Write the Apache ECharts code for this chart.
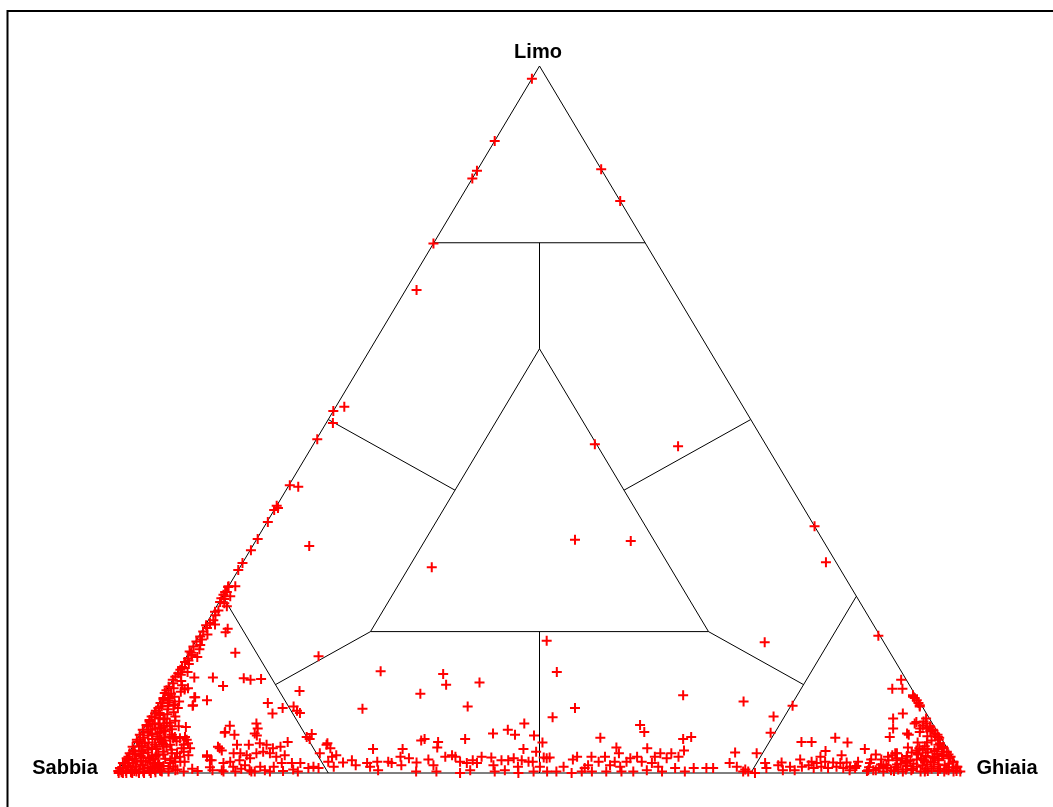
<!DOCTYPE html>
<html>
<head>
<meta charset="utf-8">
<script src="https://cdn.jsdelivr.net/npm/echarts@6/dist/echarts.min.js"></script>
<style>
  html, body { margin: 0; padding: 0; background: #ffffff; }
  #chart { width: 1053px; height: 807px; }
</style>
</head>
<body>
<div id="chart"></div>
<script>
// Vertex names of the ternary diagram
const vertici = { sabbia: 'Sabbia', ghiaia: 'Ghiaia', limo: 'Limo' };

// Samples as [sabbia %, limo %, ghiaia %]
const campioniLimosi = [
  [1.8,98.2,0],[10.6,89.4,0],[14.8,85.2,0],[15.9,84.1,0],[0,85.4,14.6],[0,80.9,19.1],[25.1,74.9,0],[30.4,68.3,1.3],
  [47.2,51.8,1.0],[48.8,51.2,0],[49.7,49.5,0.8],[52.7,47.2,0.1],[59.2,40.7,0.1],[58.3,40.5,1.2],[62.2,37.8,0],
  [62.8,37.2,0],[62.2,37.5,0.3],[64.4,35.5,0.1],[66.8,33.1,0.1],[68.4,31.5,0.1],[70.3,29.7,0],[71.3,28.7,0],
  [61.2,32.1,6.7],[73.7,26.3,0],[72.8,26.4,0.8],[74.4,25.6,0],[75.3,24.7,0]
];

const campioniCentrali = [
  [20.2,46.5,33.3],[10.5,46.2,43.3],[29.3,33.0,37.7],[22.8,32.8,44.4],[0,34.9,65.1],[1.2,29.8,69.0],
  [14.1,18.5,67.4],[48.2,29.1,22.7],[67.9,16.5,15.6],[0.2,19.4,80.4]
];

const bordoSabbioso = [
  [73.6,26.4,0],[74.2,25.6,0.2],[74.8,25.2,0],[75.7,24.2,0.1],[75.3,24.0,0.7],[76.5,23.0,0.5],[77.2,22.3,0.5],
  [77.8,21.6,0.6],[78.4,21.2,0.4],[79.1,20.5,0.4],[79.8,20.0,0.2],[80.5,19.3,0.2],[81.3,18.6,0.1],[81.1,18.1,0.8],
  [82.0,17.9,0.1],[82.8,17.2,0],[82.8,16.7,0.5],[83.5,16.2,0.3],[84.1,15.7,0.2],[84.8,15.0,0.2],[85.2,14.6,0.2],
  [85.7,14.1,0.2],[86.3,13.6,0.1],[86.8,13.2,0],[87.0,12.7,0.3],[87.8,12.2,0],[88.3,11.7,0],[88.7,11.3,0],
  [89.2,10.6,0.2],[88.8,10.3,0.9],[89.9,9.9,0.2],[90.5,9.2,0.3],[91.3,8.4,0.3],[91.9,8.0,0.1],[92.4,7.5,0.1],
  [93.1,6.8,0.1],[93.9,6.1,0],[94.6,5.4,0],[95.3,4.7,0],[96.3,3.7,0],[97.1,2.8,0.1],[97.8,2.1,0.1],[98.6,1.4,0],
  [99.3,0.7,0],[99.7,0.3,0],
  [74.1,25.0,0.9],[75.2,23.6,1.2],[77.0,22.8,0.2],[77.9,21.0,1.1],[79.5,19.6,0.9],[80.5,18.9,0.6],[81.5,17.5,1.0],
  [82.3,16.4,1.3],[83.8,15.4,0.8],[84.5,14.3,1.2],[85.5,13.9,0.6],[85.9,13.0,1.1],[86.1,12.4,1.5],[87.3,12.0,0.7],
  [86.7,11.5,1.8],[79.0,20.9,0.1],[75.0,24.6,0.4],[82.7,17.0,0.3],[83.6,15.9,0.5],[84.9,14.8,0.3]
];

const nucleoSabbioso = [
  [88.4,11.0,0.6],[87.8,10.8,1.4],[89.3,10.4,0.3],[88.8,10.0,1.2],[88.3,9.7,2.0],[90.0,9.4,0.6],[89.5,9.0,1.5],
  [91.0,8.8,0.2],[89.0,8.6,2.4],[90.8,8.2,1.0],[91.6,7.9,0.5],[90.7,7.6,1.7],[92.5,7.3,0.2],[90.2,7.1,2.7],
  [92.1,6.9,1.0],[93.0,6.6,0.4],[91.7,6.4,1.9],[93.0,6.1,0.9],[91.3,5.9,2.8],[94.0,5.7,0.3],[93.1,5.5,1.4],
  [92.6,5.2,2.2],[94.4,5.0,0.6],[93.4,4.8,1.8],[92.1,4.6,3.3],[95.4,4.4,0.2],[94.6,4.2,1.2],[93.5,4.0,2.5],
  [95.5,3.8,0.7],[94.6,3.6,1.8],[93.6,3.4,3.0],[96.5,3.2,0.3],[95.6,3.1,1.3],[94.9,2.9,2.2],[96.5,2.7,0.8],
  [93.8,2.6,3.6],[96.0,2.4,1.6],[97.5,2.3,0.2],[95.2,2.1,2.7],[96.9,2.0,1.1],[97.7,1.8,0.5],[96.3,1.7,2.0],
  [95.3,1.5,3.2],[97.4,1.4,1.2],[98.4,1.3,0.3],[96.4,1.1,2.5],[98.2,1.0,0.8],[97.4,0.9,1.7],[94.6,0.8,4.6],
  [98.9,0.7,0.4],[96.5,0.6,2.9],[98.1,0.5,1.4],[99.4,0.4,0.2],[96.0,0.3,3.7],[98.8,0.3,0.9],[97.6,0.2,2.2],
  [99.4,0.1,0.5],[98.3,0.1,1.6],[99.8,0,0.2],[98.9,0,1.1],[97.4,0,2.6],[96.0,0,4.0],[94.6,0.2,5.2],[93.6,0.6,5.8],
  [94.4,1.2,4.4],[93.3,2.0,4.7],[93.0,3.0,4.0],[90.7,4.5,4.8],[90.8,5.4,3.8],[90.4,6.2,3.4],[89.4,7.4,3.2],
  [89.1,8.0,2.9],[88.2,9.2,2.6],[87.6,10.1,2.3],[86.1,11.8,2.1],[96.8,0,3.2],[95.3,0.4,4.3],[95.8,1.6,2.6],
  [94.6,2.5,2.9],[94.1,3.5,2.4],
  [94.7,0.3,5.0],[92.6,0.5,6.9],[92.0,0.2,7.8],[90.8,0.6,8.6],[90.3,0.3,9.4],[88.6,0.8,10.6],[88.5,0.4,11.1],
  [85.9,0.2,13.9],[85.0,0.6,14.4],[80.2,0.3,19.5],[78.9,0.5,20.6],[78.5,0.2,21.3],
  [88.5,10.6,0.9],[89.7,9.9,0.4],[89.2,9.5,1.3],[90.7,8.5,0.8],[89.9,8.3,1.8],[91.1,7.7,1.2],[92.3,7.0,0.7],
  [91.1,6.7,2.2],[92.3,6.3,1.4],[93.4,5.8,0.8],[92.4,5.6,2.0],[93.7,5.3,1.0],[92.5,4.9,2.6],[94.9,4.7,0.4],
  [94.1,4.3,1.6],[92.5,4.1,3.4],[95.1,3.9,1.0],[93.5,3.7,2.8],[94.7,3.3,2.0],[96.4,3.0,0.6],[95.5,2.8,1.7],
  [93.2,2.6,4.2],[95.8,2.2,2.0],[94.7,2.0,3.3],[97.2,1.9,0.9],[96.9,1.6,1.5],[94.8,1.4,3.8],[96.6,1.2,2.2],
  [94.0,1.0,5.0],[98.0,0.8,1.2],[96.0,0.7,3.3],[97.1,0.5,2.4],[94.7,0.4,4.9],[97.8,0.3,1.9],[96.8,0.2,3.0],
  [95.4,0.1,4.5],[93.8,0.2,6.0],[99.3,0,0.7],[98.2,0,1.8],[92.8,1.8,5.4],[92.1,2.8,5.1],[92.6,3.8,3.6],
  [91.9,5.0,3.1],[91.5,6.0,2.5]
];

const sabbieGhiaiose = [
  [77.2,19.9,2.9],[76.7,20.4,2.9],[77.5,17.0,5.5],[84.1,13.5,2.4],[81.9,13.5,4.6],[78.3,13.4,8.3],[77.6,13.2,9.2],
  [76.3,13.3,10.4],[81.3,12.3,6.4],[85.6,12.0,2.4],[85.4,10.7,3.9],[84.2,10.3,5.5],[86.3,9.5,4.2],[77.2,9.9,12.9],
  [75.8,9.2,15.0],[77.4,8.4,14.2],[74.4,9.4,16.2],[74.3,8.8,16.9],[74.1,8.5,17.4],[72.6,11.6,15.8],[90.5,7.7,1.8],
  [90.4,6.6,3.0],[89.4,6.6,4.0],[88.6,6.5,4.9],[83.3,6.7,10.0],[84.4,5.7,9.9],[83.4,5.4,11.2],[80.0,7.0,13.0],
  [80.2,6.3,13.5],[80.9,5.6,13.5],[80.8,5.3,13.9],[92.0,5.8,2.2],[92.4,4.7,2.9],[91.2,5.1,3.7],[90.6,5.1,4.3],
  [90.1,4.9,5.0],[89.4,5.1,5.5],[89.4,4.7,5.9],[90.1,4.0,5.9],[89.5,4.2,6.3],[90.6,3.5,5.9],[92.3,3.7,4.0],
  [91.9,3.3,4.8],[91.5,2.8,5.7],[91.4,2.3,6.3],[91.2,1.6,7.2],[92.3,1.6,6.1],[93.0,1.4,5.6],[94.1,2.5,3.4],
  [94.4,1.4,4.2],[95.3,0.9,3.8],[95.2,1.8,3.0],[86.2,3.7,10.1],[86.0,3.2,10.8],[88.1,2.5,9.4],[88.1,1.8,10.1],
  [83.8,4.0,12.2],[82.4,4.0,13.6],[81.0,4.2,14.8],[80.3,4.0,15.7],[79.8,3.5,16.7],[78.8,3.7,17.5],[77.6,4.4,18.0],
  [84.8,2.8,12.4],[84.0,2.8,13.2],[83.4,2.5,14.1],[83.2,2.1,14.7],[82.1,2.8,15.1],[81.2,3.0,15.8],[80.5,2.8,16.7],
  [80.0,2.3,17.7],[78.9,2.5,18.6],[86.7,1.4,11.9],[85.8,1.6,12.6],[85.8,0.9,13.3],[84.6,1.8,13.6],[84.3,1.1,14.6],
  [84.1,0.4,15.5],[83.6,0.2,16.2],[82.6,0.9,16.5],[82.3,0.4,17.3],[81.8,0.2,18.0],[81.0,0.9,18.1],[79.8,1.4,18.8],
  [78.6,1.4,20.0],[77.6,1.4,21.0],[77.0,0.7,22.3],[76.3,0.9,22.8],[75.8,0.7,23.5],[74.6,2.8,22.6],[73.2,4.0,22.8],
  [73.0,3.5,23.5],[74.2,1.6,24.2],[73.9,0.9,25.2],[75.0,5.1,19.9],[74.2,5.5,20.3],[74.8,4.8,20.4],[72.8,2.5,24.7],
  [87.3,0.2,12.5],[84.0,0.2,15.8],
  [85.5,10.7,3.8],[86.2,9.6,4.2],[88.0,11.2,0.8],[88.5,9.6,1.9],[90.6,7.0,2.4],[91.6,7.0,1.4],[91.6,6.3,2.1],
  [90.9,4.9,4.2],[92.5,4.4,3.1],[91.7,4.0,4.3],[89.6,3.5,6.9],[90.6,3.0,6.4],[90.3,2.5,7.2],[92.1,2.1,5.8],
  [91.7,1.6,6.7],[92.9,0.9,6.2],[92.9,0.4,6.7],[94.3,2.3,3.4],[94.6,1.1,4.3],[95.5,0.7,3.8],[88.2,2.3,9.5],
  [87.9,1.8,10.3],[87.4,0.4,12.2],[86.1,3.5,10.4],[84.3,5.8,9.9]
];

const fondoMisto = [
  [61.6,14.4,24.0],[54.4,14.0,31.6],[54.8,12.5,32.7],[50.7,12.8,36.5],[58.5,11.2,30.3],[66.4,9.1,24.5],
  [53.8,9.4,36.8],[39.8,18.7,41.5],[48.3,7.0,44.7],[52.7,5.6,41.7],[50.7,6.1,43.2],[50.2,5.4,44.4],[48.0,5.3,46.7],
  [47.5,4.3,48.2],[61.7,4.6,33.7],[61.2,4.8,34.0],[59.8,4.4,35.8],[60.3,3.6,36.1],[56.4,4.8,38.8],[73.0,4.2,22.8],
  [68.0,3.4,28.6],[64.5,3.4,32.1],[73.4,2.3,24.3],[72.5,1.5,26.0],[71.3,1.8,26.9],[71.2,1.1,27.7],[69.7,1.4,28.9],
  [69.6,0.9,29.5],[68.4,1.6,30.0],[68.9,0.4,30.7],[67.1,1.6,31.3],[66.8,1.4,31.8],[65.3,2.3,32.4],[65.8,1.1,33.1],
  [64.4,2.1,33.5],[63.8,1.5,34.7],[64.5,0.2,35.3],[62.2,1.9,35.9],[62.0,1.1,36.9],[62.1,0.2,37.7],[60.0,2.3,37.7],
  [59.1,2.5,38.4],[58.8,2.3,38.9],[58.6,1.6,39.8],[59.4,0,40.6],[57.9,1.4,40.7],[58.0,0.4,41.6],[57.0,1.8,41.2],
  [56.7,1.4,41.9],[55.7,2.3,42.0],[54.6,2.2,43.2],[54.9,1.1,44.0],[55.2,0.2,44.6],[53.6,1.8,44.6],[53.9,0.4,45.7],
  [52.8,1.8,45.4],[52.0,2.1,45.9],[52.1,0.9,47.0],[52.5,0,47.5],[51.2,1.8,47.0],[50.2,3.4,46.4],[50.5,1.6,47.9],
  [50.6,0.2,49.2],[48.9,3.0,48.1],[49.5,0.9,49.6],[48.1,2.1,49.8],[49.0,0.2,50.8],
  [40.8,14.3,44.9],[41.2,9.2,49.6],[44.5,7.9,47.6],[27.5,11.0,61.5],[40.3,5.0,54.7],[34.7,6.8,58.5],
  [34.7,5.8,59.5],[30.6,4.8,64.6],[29.5,5.1,65.4],[31.3,3.2,65.5],[39.1,3.6,57.3],[39.2,2.8,58.0],[35.5,3.5,61.0],
  [25.4,2.9,71.7],[48.4,2.2,49.4],[47.7,2.2,50.1],[50.0,1.6,48.4],[47.9,0.2,51.9],[46.7,0.9,52.4],[46.2,0,53.8],
  [45.1,1.9,53.0],[44.4,2.3,53.3],[44.9,0.2,54.9],[44.3,0.7,55.0],[43.7,1.1,55.2],[43.7,0.2,56.1],[42.7,2.3,55.0],
  [42.2,1.6,56.2],[41.1,2.3,56.6],[42.0,0.2,57.8],[41.1,1.1,57.8],[40.3,1.6,58.1],[40.0,0.9,59.1],[40.2,0.2,59.6],
  [38.9,1.6,59.5],[38.2,2.1,59.7],[38.8,0.2,61.0],[37.3,2.3,60.4],[37.1,1.6,61.3],[37.1,0.4,62.5],[36.0,1.4,62.6],
  [35.2,2.3,62.5],[35.5,0.9,63.6],[34.3,2.8,62.9],[35.4,0.2,64.4],[33.9,2.1,64.0],[33.0,2.8,64.2],[33.6,0.7,65.7],
  [32.4,2.3,65.3],[32.7,0.2,67.1],[31.4,0.7,67.9],[29.9,0.7,69.4],[29.1,0.7,70.2],[26.8,1.4,71.8],[26.2,0.9,72.9],
  [25.8,0.2,74.0],[25.2,0.2,74.6],[24.5,0,75.5]
];

const campioniGhiaiosi = [
  [20.8,10.1,69.1],[15.3,9.5,75.2],[18.3,8.0,73.7],[19.8,5.7,74.5],[22.9,2.8,74.3],
  [0.6,13.2,86.2],[2.3,11.9,85.8],[1.1,11.9,87.0],[0.4,10.8,88.8],[0.2,10.3,89.5],[0.2,9.6,90.2],[4.3,7.7,88.0],
  [2.8,8.4,88.8],[5.0,6.3,88.7],[6.0,5.1,88.9],[3.7,5.6,90.7],[3.6,5.4,91.0],[1.8,7.2,91.0],[1.3,6.7,92.0],
  [0.4,7.7,91.9],[0.5,6.6,92.9],[0.4,6.1,93.5],[0.2,5.4,94.4],[0.2,5.0,94.8],
  [16.8,4.4,78.8],[15.6,4.4,80.0],[12.5,5.0,82.5],[11.4,4.3,84.3],[14.6,3.1,82.3],[13.0,2.5,84.5],[9.8,3.4,86.8],
  [7.6,2.3,90.1],[6.3,2.8,90.9],[3.8,3.2,93.0],[3.3,3.5,93.2],[2.4,3.4,94.2],[2.1,2.3,95.6],[0.4,3.7,95.9],
  [25.4,0.5,74.1],[22.6,1.4,76.0],[22.8,0.7,76.5],[21.2,1.1,77.7],[20.6,1.5,77.9],[21.0,0.4,78.6],[19.9,0.9,79.2],
  [19.6,0.4,80.0],[18.2,1.9,79.9],[18.5,0.9,80.6],[17.6,1.1,81.3],[17.0,1.6,81.4],[17.2,0.7,82.1],[16.5,1.4,82.1],
  [15.6,2.3,82.1],[16.2,0.9,82.9],[15.4,1.6,83.0],[15.5,0.7,83.8],[14.5,1.5,84.0],[14.4,0.9,84.7],[13.7,1.4,84.9],
  [13.7,0.7,85.6],[12.9,1.5,85.6],[12.8,0.9,86.3],[12.3,0.7,87.0],[10.9,0.4,88.7],[10.3,0.4,89.3],[8.8,1.0,90.2],
  [8.5,0.7,90.8]
];

const nucleoGhiaioso = [
  [0.3,11.0,88.7],[0.3,10.6,89.1],[0.2,9.9,89.9],[0.3,9.4,90.3],[0.9,7.3,91.8],[0.7,7.0,92.3],[0.5,6.5,93.0],
  [0.6,6.1,93.3],[0.4,5.6,94.0],[0.3,5.1,94.6],[0.5,4.2,95.3],[0.4,3.5,96.1],[0.3,3.0,96.7],[0.2,2.3,97.5],
  [0.2,1.6,98.2],[0.1,0.9,99.0],[0.1,0.2,99.7],
  [2.1,7.0,90.9],[1.0,6.3,92.7],[3.8,2.8,93.4],[2.2,2.1,95.7],[6.5,2.8,90.7],[6.8,1.8,91.4],[5.4,2.3,92.3],
  [5.2,1.8,93.0],[3.8,2.1,94.1],[3.4,1.6,95.0],[1.1,2.5,96.4],
  [0.5,0.3,99.2],[1.2,0.8,98.0],[2.0,0.2,97.8],[2.6,1.5,95.9],[3.3,0.6,96.1],[4.1,1.1,94.8],[4.8,0.2,95.0],
  [5.6,1.7,92.7],[6.4,0.5,93.1],[7.1,1.2,91.7],[7.9,0.3,91.8],[8.6,1.9,89.5],[9.5,0.7,89.8],[10.2,1.4,88.4],
  [11.1,0.3,88.6],[1.0,2.4,96.6],[1.7,3.1,95.2],[0.8,4.0,95.2],[2.4,2.2,95.4],[3.0,3.3,93.7],[3.8,2.0,94.2],
  [4.5,2.9,92.6],[5.3,2.4,92.3],[6.0,1.0,93.0],[0.3,1.6,98.1],[1.5,1.1,97.4],[2.9,0.9,96.2],[3.6,1.8,94.6],
  [4.9,0.9,94.2],[6.7,2.1,91.2],[7.5,0.8,91.7],[8.2,0.4,91.4],[9.0,1.2,89.8],[0.6,5.2,94.2],[1.3,4.6,94.1],
  [2.1,5.8,92.1],[1.0,6.4,92.6],[0.7,3.0,96.3],[1.9,1.8,96.3],[3.1,4.3,92.6],[2.5,3.8,93.7],[5.8,0.4,93.8],
  [6.9,0.2,92.9],[12.0,1.0,87.0],[13.1,0.4,86.5],[0.2,0.9,98.9],[0.9,0.2,98.9],[1.6,0.5,97.9],[2.3,0.6,97.1],
  [3.9,0.3,95.8],
  [0.4,0.6,99.0],[0.9,1.3,97.8],[1.4,0.4,98.2],[1.8,2.0,96.2],[2.2,1.2,96.6],[2.7,0.3,97.0],[3.1,2.4,94.5],
  [3.5,1.2,95.3],[4.0,0.6,95.4],[4.4,1.9,93.7],[4.6,3.6,91.8],[5.1,1.3,93.6],[5.5,0.6,93.9],[6.1,2.0,91.9],
  [6.6,1.3,92.1],[7.3,0.5,92.2],[7.8,1.8,90.4],[8.4,1.1,90.5],[9.2,0.2,90.6],[9.8,1.9,88.3],[10.6,0.8,88.6],
  [11.5,1.6,86.9],[0.5,2.1,97.4],[1.2,3.4,95.4],[2.0,4.3,93.7],[0.4,4.7,94.9],[1.5,5.2,93.3],[2.6,2.9,94.5],
  [3.9,2.6,93.5],[0.3,2.6,97.1],[0.6,3.6,95.8],[1.6,2.7,95.7],[2.9,1.6,95.5],[4.3,0.2,95.5],[5.9,1.5,92.6],
  [7.0,2.5,90.5],[8.9,2.6,88.5],[10.0,0.4,89.6],[0.8,5.9,93.3],[1.8,6.3,91.9]
];

// Outer triangle and class boundaries, as [sabbia, limo, ghiaia] vertices
const contorno = [[100,0,0],[0,0,100],[0,100,0],[100,0,0]];
const confiniClassi = [
  [[25,75,0],[0,75,25]],
  [[75,25,0],[75,0,25]],
  [[25,0,75],[0,25,75]],
  [[20,60,20],[60,20,20],[20,20,60],[20,60,20]],
  [[12.5,75,12.5],[20,60,20]],
  [[50,50,0],[40,40,20]],
  [[0,50,50],[20,40,40]],
  [[60,20,20],[75,12.5,12.5]],
  [[20,20,60],[12.5,12.5,75]],
  [[40,20,40],[50,0,50]]
];

// Ternary composition -> plane coordinates (x: ghiaia + limo/2, y: limo)
function inPiano(c) {
  return [c[2] + c[1] / 2, c[1]];
}

const campioni = [].concat(campioniLimosi, campioniCentrali, bordoSabbioso, nucleoSabbioso,
  sabbieGhiaiose, fondoMisto, campioniGhiaiosi, nucleoGhiaioso);

const serieLinee = [contorno].concat(confiniClassi).map(function (tratto) {
  return {
    type: 'line',
    data: tratto.map(inPiano),
    showSymbol: false,
    symbol: 'none',
    clip: false,
    silent: true,
    z: 1,
    lineStyle: { color: '#000000', width: 1 }
  };
});

const chart = echarts.init(document.getElementById('chart'), null, { renderer: 'canvas' });
const fontEtichette = 'bold 20px "Liberation Sans", Arial, sans-serif';

chart.setOption({
  animation: false,
  backgroundColor: '#ffffff',
  grid: { left: 117, top: 66, width: 845, height: 707, containLabel: false },
  xAxis: { type: 'value', min: 0, max: 100, show: false },
  yAxis: { type: 'value', min: 0, max: 100, show: false },
  graphic: [
    {
      type: 'rect', silent: true, z: 0,
      shape: { x: 7.5, y: 11, width: 1200, height: 1000 },
      style: { fill: 'none', stroke: '#000000', lineWidth: 2 }
    },
    {
      type: 'text', silent: true, x: 538, y: 52,
      style: { text: vertici.limo, font: fontEtichette, fill: '#000000', textAlign: 'center', textVerticalAlign: 'middle' }
    },
    {
      type: 'text', silent: true, x: 65, y: 768,
      style: { text: vertici.sabbia, font: fontEtichette, fill: '#000000', textAlign: 'center', textVerticalAlign: 'middle' }
    },
    {
      type: 'text', silent: true, x: 1007, y: 768,
      style: { text: vertici.ghiaia, font: fontEtichette, fill: '#000000', textAlign: 'center', textVerticalAlign: 'middle' }
    }
  ],
  series: serieLinee.concat([
    {
      type: 'scatter',
      data: campioni.map(inPiano),
      symbol: 'path://M4,0H6V4H10V6H6V10H4V6H0V4H4Z',
      symbolSize: 10,
      clip: false,
      z: 2,
      itemStyle: { color: '#ff0000', opacity: 1 }
    }
  ])
});
</script>
</body>
</html>
